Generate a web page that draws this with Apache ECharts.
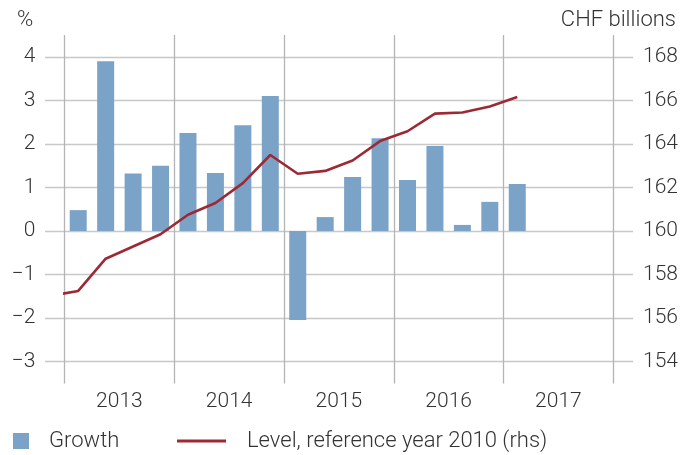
<!DOCTYPE html>
<html>
<head>
<meta charset="utf-8">
<script src="https://cdn.jsdelivr.net/npm/echarts@6/dist/echarts.min.js"></script>
<style>
  html, body { margin: 0; padding: 0; background: #fff; }
  #chart { width: 694px; height: 455px; }
</style>
</head>
<body>
<div id="chart"></div>
<script>
// data
const years = ['2013', '2014', '2015', '2016', '2017']
const growthQuarters = [
  '2013 Q1', '2013 Q2', '2013 Q3', '2013 Q4',
  '2014 Q1', '2014 Q2', '2014 Q3', '2014 Q4',
  '2015 Q1', '2015 Q2', '2015 Q3', '2015 Q4',
  '2016 Q1', '2016 Q2', '2016 Q3', '2016 Q4',
  '2017 Q1'
]
const growth = [0.48, 3.90, 1.32, 1.50, 2.25, 1.33, 2.43, 3.10, -2.04, 0.32, 1.24, 2.13, 1.17, 1.95, 0.14, 0.67, 1.08]
const levelQuarters = ['2012 Q4'].concat(growthQuarters)
const level = [157.03, 157.25, 158.73, 159.29, 159.85, 160.75, 161.29, 162.20, 163.49, 162.63, 162.76, 163.24, 164.13, 164.58, 165.39, 165.44, 165.72, 166.15]
const leftTicks = [-3, -2, -1, 0, 1, 2, 3, 4]
const rightTicks = [154, 156, 158, 160, 162, 164, 166, 168]

const growthName = 'Growth'
const levelName = 'Level, reference year 2010 (rhs)'

const font = 'Roboto'
const textColor = '#333'
const barColor = '#7ba3c7'
const lineColor = '#9c2a35'

// quarter label -> position on the x axis (one unit per quarter, years from 2013)
const firstYear = Number(years[0])
const qpos = (label) => {
  const [y, q] = label.split(' Q')
  return (Number(y) - firstYear) * 4 + Number(q) - 0.5
}
const minus = (v) => String(v).replace('-', '\u2212')

const leftMin = leftTicks[0] - 0.5
const leftMax = leftTicks[leftTicks.length - 1] + 0.5
const rightMin = rightTicks[0] - 1
const rightMax = rightTicks[rightTicks.length - 1] + 1

const labelStyle = { fontFamily: font, fontWeight: 300, fontSize: 21, color: textColor }
const bigStyle = { ...labelStyle, fontSize: 22 }

const chart = echarts.init(document.getElementById('chart'))

chart.setOption({
  animation: false,
  title: [
    { text: '%', left: 17, top: 9, padding: 0, textStyle: bigStyle },
    { text: 'CHF billions', right: 18, top: 9, padding: 0, textStyle: bigStyle }
  ],
  legend: [
    {
      data: [growthName],
      left: 13,
      top: 430,
      padding: 0,
      itemWidth: 16,
      itemHeight: 16,
      icon: 'rect',
      textStyle: { ...bigStyle, padding: [0, 0, 0, 15] }
    },
    {
      data: [levelName],
      left: 177,
      top: 430,
      padding: 0,
      itemWidth: 49,
      itemHeight: 3,
      icon: 'rect',
      textStyle: { ...bigStyle, padding: [0, 0, 0, 16] }
    }
  ],
  grid: [
    // data area, between the first and last year lines
    { left: 64.5, right: 80.7, top: 35, bottom: 71.5 },
    // wider area for the horizontal lines and the y labels
    { left: 45, right: 61, top: 35, bottom: 71.5 }
  ],
  xAxis: [
    {
      gridIndex: 0,
      type: 'value',
      position: 'top',
      min: 0,
      max: years.length * 4,
      interval: 4,
      axisLine: { show: false },
      axisTick: { show: false },
      axisLabel: { show: false },
      splitLine: { show: true, lineStyle: { color: '#b4b4b4', width: 1.3 } }
    },
    {
      gridIndex: 0,
      type: 'category',
      position: 'bottom',
      data: years,
      axisLine: { show: false },
      axisTick: { show: false },
      axisLabel: { ...labelStyle, margin: 7.5 },
      splitLine: { show: false }
    },
    { gridIndex: 1, type: 'value', show: false, min: 0, max: 1 }
  ],
  yAxis: [
    {
      gridIndex: 1,
      type: 'value',
      position: 'left',
      min: leftMin,
      max: leftMax,
      splitNumber: 8,
      axisLine: { show: false },
      axisTick: { show: false },
      axisLabel: {
        ...labelStyle,
        margin: 9.5,
        showMinLabel: false,
        showMaxLabel: false,
        formatter: minus
      },
      splitLine: {
        show: true,
        showMinLine: false,
        showMaxLine: false,
        lineStyle: { color: '#c8c8c8', width: 1.3 }
      }
    },
    {
      gridIndex: 1,
      type: 'value',
      position: 'right',
      min: rightMin,
      max: rightMax,
      splitNumber: 8,
      axisLine: { show: false },
      axisTick: { show: false },
      axisLabel: { ...labelStyle, margin: 10, showMinLabel: false, showMaxLabel: false },
      splitLine: { show: false }
    },
    { gridIndex: 0, type: 'value', position: 'left', show: false, min: leftMin, max: leftMax },
    { gridIndex: 0, type: 'value', position: 'right', show: false, min: rightMin, max: rightMax }
  ],
  series: [
    {
      name: growthName,
      type: 'bar',
      xAxisIndex: 0,
      yAxisIndex: 2,
      barWidth: 17,
      itemStyle: { color: barColor },
      data: growth.map((v, i) => [qpos(growthQuarters[i]), v])
    },
    {
      name: levelName,
      type: 'line',
      xAxisIndex: 0,
      yAxisIndex: 3,
      symbol: 'none',
      clip: true,
      itemStyle: { color: lineColor },
      lineStyle: { color: lineColor, width: 2.6 },
      data: level.map((v, i) => [qpos(levelQuarters[i]), v])
    }
  ]
})
</script>
</body>
</html>
